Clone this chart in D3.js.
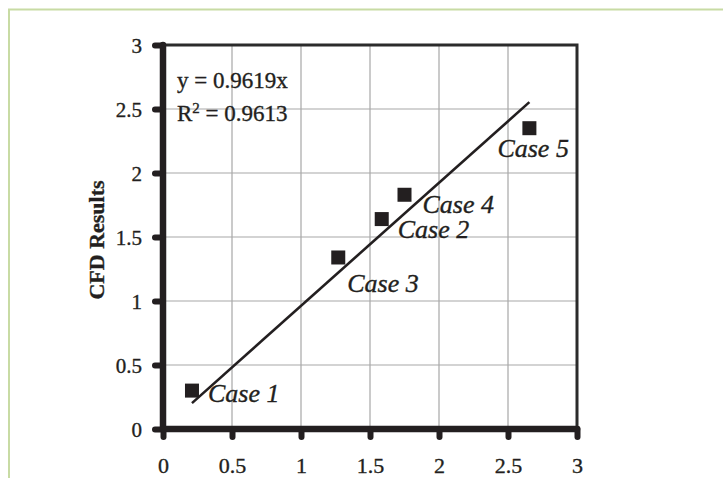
<!DOCTYPE html>
<html>
<head>
<meta charset="utf-8">
<script src="https://cdn.jsdelivr.net/npm/d3@7"></script>
<style>
  html, body { margin: 0; padding: 0; background: #fff; }
  svg { display: block; }
  text { font-family: "Liberation Serif", "Times New Roman", serif; fill: #231f20; stroke: #231f20; stroke-width: 0.35px; }
</style>
</head>
<body>
<svg id="chart" width="723" height="478"></svg>
<script>
// Simulated vs. CFD results for five cases
const caseNames = ["Case 1", "Case 2", "Case 3", "Case 4", "Case 5"];
const xValues = [0.21, 1.585, 1.27, 1.75, 2.655];
const yValues = [0.30, 1.64, 1.34, 1.83, 2.35];
const slope = 0.9619;
const rSquared = 0.9613;
const xTicks = [0, 0.5, 1, 1.5, 2, 2.5, 3];
const yTicks = [0, 0.5, 1, 1.5, 2, 2.5, 3];
// label placement relative to each point (px)
const labelOffsets = [[16, 11], [16, 19], [9, 35], [18, 18], [-32, 29]];

const svg = d3.select("#chart");
const ink = "#231f20";
const serif = "'Liberation Serif', 'Times New Roman', serif";

// outer frame
svg.append("path")
  .attr("d", "M9,478 V9.5 H723")
  .attr("fill", "none")
  .attr("stroke", "#c8dba4")
  .attr("stroke-width", 2);

const x = d3.scaleLinear().domain([0, 3]).range([163, 577]);
const y = d3.scaleLinear().domain([0, 3]).range([429, 45]);

// grid
const grid = svg.append("g").attr("stroke", "#a7a7a7").attr("stroke-width", 1.2);
grid.selectAll("line.gx").data(xTicks.slice(1, -1)).join("line")
  .attr("x1", d => x(d)).attr("x2", d => x(d))
  .attr("y1", y(3)).attr("y2", y(0));
grid.selectAll("line.gy").data(yTicks.slice(1, -1)).join("line")
  .attr("x1", x(0)).attr("x2", x(3))
  .attr("y1", d => y(d)).attr("y2", d => y(d));

// top and right border
svg.append("path")
  .attr("d", `M${x(0)},${y(3)} H${x(3)} V${y(0)}`)
  .attr("fill", "none").attr("stroke", "#2b2b2b").attr("stroke-width", 3);

// axes
const xAxis = svg.append("g").attr("transform", `translate(0,${y(0)})`)
  .call(d3.axisBottom(x).tickValues(xTicks).tickSize(8).tickPadding(20).tickFormat(d3.format("")));
const yAxis = svg.append("g").attr("transform", `translate(${x(0)},0)`)
  .call(d3.axisLeft(y).tickValues(yTicks).tickSize(8).tickPadding(13).tickFormat(d3.format("")));

[xAxis, yAxis].forEach(g => {
  g.attr("font-family", serif);
  g.select(".domain").remove();
  g.selectAll(".tick line")
    .attr("stroke", ink).attr("stroke-width", 6).attr("stroke-linecap", "round");
  g.selectAll(".tick text")
    .attr("fill", ink)
    .style("font-family", serif);
});
xAxis.selectAll(".tick text").style("font-size", "22px");
yAxis.selectAll(".tick text").style("font-size", "21px").attr("dy", "0.34em");

// thick axis lines
svg.append("line")
  .attr("x1", x(0)).attr("x2", x(0)).attr("y1", y(3)).attr("y2", y(0))
  .attr("stroke", ink).attr("stroke-width", 6.5).attr("stroke-linecap", "round");
svg.append("line")
  .attr("x1", x(0)).attr("x2", x(3)).attr("y1", y(0)).attr("y2", y(0))
  .attr("stroke", ink).attr("stroke-width", 6.5).attr("stroke-linecap", "round");

// trendline through the origin
const xMin = d3.min(xValues), xMax = d3.max(xValues);
svg.append("line")
  .attr("x1", x(xMin)).attr("y1", y(slope * xMin))
  .attr("x2", x(xMax)).attr("y2", y(slope * xMax))
  .attr("stroke", ink).attr("stroke-width", 2.6);

// points
const pts = caseNames.map((name, i) => ({ name, x: xValues[i], y: yValues[i], off: labelOffsets[i] }));
const sq = 14;
svg.selectAll("rect.pt").data(pts).join("rect")
  .attr("x", d => x(d.x) - sq / 2).attr("y", d => y(d.y) - sq / 2)
  .attr("width", sq).attr("height", sq)
  .attr("fill", ink);

svg.selectAll("text.case").data(pts).join("text")
  .attr("x", d => x(d.x) + d.off[0]).attr("y", d => y(d.y) + d.off[1])
  .attr("font-size", 26).attr("font-style", "italic")
  .text(d => d.name);

// equation annotation
svg.append("text").attr("x", 177).attr("y", 88).attr("font-size", 23)
  .text(`y = ${slope}x`);
const r2 = svg.append("text").attr("x", 177).attr("y", 121).attr("font-size", 23);
r2.append("tspan").text("R");
r2.append("tspan").attr("font-size", 15).attr("dy", -8).text("2");
r2.append("tspan").attr("dy", 8).text(` = ${rSquared}`);

// axis title
svg.append("text")
  .attr("transform", `translate(104,240) rotate(-90)`)
  .attr("text-anchor", "middle")
  .attr("font-size", 22).attr("font-weight", "bold")
  .text("CFD Results");
</script>
</body>
</html>
